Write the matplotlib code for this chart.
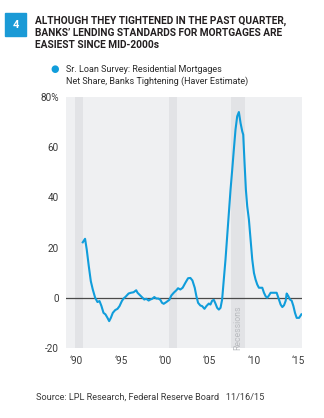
import matplotlib
matplotlib.use("Agg")
import matplotlib.pyplot as plt
from matplotlib.patches import Rectangle

plt.rcParams['font.family'] = ['Roboto', 'DejaVu Sans']

years = [1990.72, 1990.98, 1991.17, 1991.40, 1991.63, 1991.85, 1992.12, 1992.38, 1992.61, 1992.83,
         1993.06, 1993.28, 1993.51, 1993.70, 1993.89, 1994.11, 1994.38, 1994.64, 1994.87, 1995.13,
         1995.32, 1995.55, 1995.89, 1996.15, 1996.45, 1996.75, 1996.90, 1997.21, 1997.47, 1997.66,
         1997.88, 1998.15, 1998.34, 1998.56, 1998.79, 1999.02, 1999.24, 1999.47, 1999.66, 1999.85,
         2000.15, 2000.49, 2000.71, 2000.98, 2001.28, 2001.47, 2001.73, 2001.99, 2002.30, 2002.60,
         2002.86, 2003.09, 2003.35, 2003.54, 2003.73, 2003.99, 2004.18, 2004.45, 2004.67, 2004.94,
         2005.12, 2005.31, 2005.50, 2005.69, 2005.88, 2006.07, 2006.26, 2006.44, 2006.63, 2006.82,
         2007.01, 2007.20, 2007.39, 2007.58, 2007.76, 2007.95, 2008.14, 2008.33, 2008.52, 2008.71,
         2008.82, 2008.97, 2009.12, 2009.27, 2009.46, 2009.65, 2009.84, 2010.03, 2010.21, 2010.40,
         2010.59, 2010.97, 2011.16, 2011.35, 2011.53, 2011.72, 2011.91, 2012.29, 2012.59, 2012.85,
         2013.04, 2013.23, 2013.42, 2013.61, 2013.72, 2013.87, 2014.10, 2014.29, 2014.48, 2014.66,
         2014.85, 2015.12, 2015.38]
values = [22.1, 23.5, 19.2, 12.6, 6.6, 3.3, 0.0, -1.7, -1.3, -3.3,
          -6.0, -6.6, -8.0, -9.3, -8.0, -6.0, -4.9, -4.4, -3.3, -1.3,
          -0.3, 0.4, 1.7, 2.0, 2.2, 3.0, 2.0, 0.9, 0.0, -0.7,
          -0.4, -1.1, -0.7, -0.4, 0.3, -0.3, -0.3, -0.8, -2.0, -2.4,
          -1.7, -0.8, 0.9, 2.0, 3.0, 3.8, 3.3, 4.0, 6.0, 7.8,
          7.9, 6.9, 4.0, 0.6, -2.0, -3.1, -3.3, -4.4, -3.3, -2.3,
          -2.7, -1.2, -0.8, -2.3, -4.0, -4.7, -4.0, -0.7, 7.3, 15.2,
          24.5, 33.8, 43.1, 51.1, 59.0, 67.0, 72.3, 74.0, 69.6, 66.3,
          65.0, 53.7, 43.1, 36.5, 31.2, 23.2, 15.2, 9.9, 7.3, 5.3,
          4.0, 4.0, 2.0, 0.6, 0.0, 0.9, 2.0, 2.0, 2.0, -0.7,
          -2.7, -3.7, -3.0, -1.2, 1.7, 0.9, -0.7, -1.2, -3.3, -6.0,
          -8.0, -8.0, -6.6]

recessions = [(1989.85, 1990.72), (2000.49, 2001.39), (2007.39, 2009.05)]
xticks = [1990, 1995, 2000, 2005, 2010, 2015]
xticklabels = ["\u201890", "\u201895", "\u201800", "\u201805", "\u201810", "\u201815"]
yticks = [-20, 0, 20, 40, 60, 80]
yticklabels = ["-20", "0", "20", "40", "60", "80%"]

blue = "#109ddb"
txt = "#3a3a3a"

fig = plt.figure(figsize=(3.24, 4.18), dpi=100)
ax = fig.add_axes([0.2037, 0.1675, 0.9321 - 0.2037, 0.768 - 0.1675])
ax.set_facecolor("#eff0f2")
for a, b in recessions:
    ax.axvspan(a, b, color="#e2e3e6", lw=0, zorder=0.5)
ax.axhline(0, color="#4a4a4a", lw=0.9, zorder=1)
ax.plot(years, values, color=blue, lw=1.5, zorder=2, solid_joinstyle="round")

ax.set_xlim(1988.83, 2015.45)
ax.set_ylim(-20, 80)
ax.set_xticks(xticks)
ax.set_xticklabels(xticklabels, fontsize=7.2, color=txt)
ax.set_yticks(yticks)
ax.set_yticklabels(yticklabels, fontsize=7.2, color=txt)
ax.tick_params(axis='y', length=0, pad=5)
ax.tick_params(axis='x', length=0, pad=6)
for s in ax.spines.values():
    s.set_visible(False)

ax.text(2008.22, -3.0, "Recessions", rotation=90, fontsize=6.3, color="#b9bbbf",
        ha="center", va="top")

# Title block
fig.patches.append(Rectangle((5 / 324, 1 - 36 / 418), 21 / 324, 23 / 418,
                             transform=fig.transFigure, color="#1a9ad6"))
fig.text(15.5 / 324, 1 - 24.5 / 418, "4", color="white", fontsize=8, fontweight="bold",
         ha="center", va="center")
title = ["ALTHOUGH THEY TIGHTENED IN THE PAST QUARTER,",
         "BANKS\u2019 LENDING STANDARDS FOR MORTGAGES ARE",
         "EASIEST SINCE MID-2000s"]
for i, line in enumerate(title):
    fig.text(35 / 324, 1 - (20.5 + 12 * i) / 418, line, fontsize=7.25, fontweight="bold",
             color="#231f20", ha="left", va="center")

# Legend
fig.text(55 / 324, 1 - 69.3 / 418, "\u25CF", color=blue, fontsize=7, ha="center", va="center",
         family=['DejaVu Sans'])
fig.text(65.5 / 324, 1 - 69.5 / 418, "Sr. Loan Survey: Residential Mortgages", fontsize=6.5,
         color="#2a2a2a", ha="left", va="center")
fig.text(65.5 / 324, 1 - 81 / 418, "Net Share, Banks Tightening (Haver Estimate)", fontsize=6.5,
         color="#2a2a2a", ha="left", va="center")

fig.text(36.5 / 324, 1 - 397 / 418, "Source: LPL Research, Federal Reserve Board   11/16/15",
         fontsize=6.6, color="#3a3a3a", ha="left", va="center")

fig.savefig("out.png", dpi=100, facecolor="white")
